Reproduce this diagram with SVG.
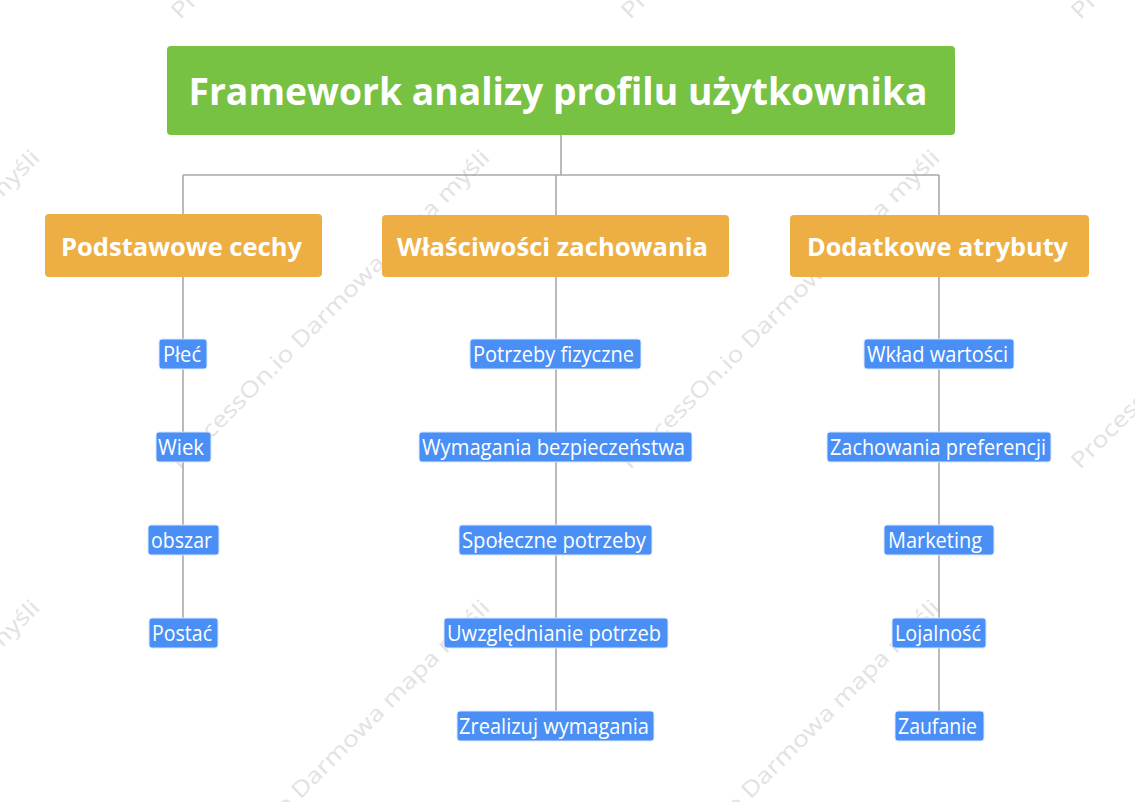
<svg xmlns="http://www.w3.org/2000/svg" width="1135" height="802" viewBox="0 0 1135 802">
<defs>
<style>
.wm{font-family:"Open Sans","Liberation Sans",sans-serif;font-size:22px;fill:#e2e2e2}
.conn{fill:none;stroke:#a9a9a9;stroke-width:1.6}
.root rect{fill:#77c143}
.root text{font-family:"Open Sans","Liberation Sans",sans-serif;font-weight:bold;font-size:37px;fill:#fff;text-anchor:middle}
.cat rect{fill:#edaf43}
.cat text{font-family:"Open Sans","Liberation Sans",sans-serif;font-weight:bold;font-size:25px;fill:#fff;text-anchor:middle}
.leaf rect{fill:#4a8ff5;stroke:#dbe7fc;stroke-width:1}
.leaf text{font-family:"Open Sans","Liberation Sans",sans-serif;font-size:21px;fill:#fff;text-anchor:middle}
</style>
</defs>
<rect x="0" y="0" width="1135" height="802" fill="#ffffff"/>
<g id="watermarks">
<text class="wm" transform="translate(-270,470) rotate(-45)" textLength="440" lengthAdjust="spacingAndGlyphs">ProcessOn.io Darmowa mapa myśli</text>
<text class="wm" transform="translate(-270,920) rotate(-45)" textLength="440" lengthAdjust="spacingAndGlyphs">ProcessOn.io Darmowa mapa myśli</text>
<text class="wm" transform="translate(180,20) rotate(-45)" textLength="440" lengthAdjust="spacingAndGlyphs">ProcessOn.io Darmowa mapa myśli</text>
<text class="wm" transform="translate(630,20) rotate(-45)" textLength="440" lengthAdjust="spacingAndGlyphs">ProcessOn.io Darmowa mapa myśli</text>
<text class="wm" transform="translate(1080,20) rotate(-45)" textLength="440" lengthAdjust="spacingAndGlyphs">ProcessOn.io Darmowa mapa myśli</text>
<text class="wm" transform="translate(180,470) rotate(-45)" textLength="440" lengthAdjust="spacingAndGlyphs">ProcessOn.io Darmowa mapa myśli</text>
<text class="wm" transform="translate(630,470) rotate(-45)" textLength="440" lengthAdjust="spacingAndGlyphs">ProcessOn.io Darmowa mapa myśli</text>
<text class="wm" transform="translate(1080,470) rotate(-45)" textLength="440" lengthAdjust="spacingAndGlyphs">ProcessOn.io Darmowa mapa myśli</text>
<text class="wm" transform="translate(180,920) rotate(-45)" textLength="440" lengthAdjust="spacingAndGlyphs">ProcessOn.io Darmowa mapa myśli</text>
<text class="wm" transform="translate(630,920) rotate(-45)" textLength="440" lengthAdjust="spacingAndGlyphs">ProcessOn.io Darmowa mapa myśli</text>
</g>
<g id="connectors" class="conn">
<path d="M561,135 V175"/>
<path d="M183,175 H939"/>
<path d="M183,175 V214"/>
<path d="M556,175 V215"/>
<path d="M939,175 V215"/>
<path d="M183,277 V618"/>
<path d="M556,277 V711"/>
<path d="M939,277 V711"/>
</g>
<g id="root" class="root">
<rect x="167" y="46" width="788" height="89" rx="4"/>
<text x="558" y="105" textLength="739" lengthAdjust="spacingAndGlyphs">Framework analizy profilu użytkownika</text>
</g>
<g id="cat-podstawowe" class="cat">
<rect x="45" y="214" width="277" height="63" rx="4"/>
<text x="181.5" y="256" textLength="241" lengthAdjust="spacingAndGlyphs">Podstawowe cechy</text>
</g>
<g id="cat-wlasciwosci" class="cat">
<rect x="382" y="215" width="347" height="62" rx="4"/>
<text x="552.5" y="256" textLength="311" lengthAdjust="spacingAndGlyphs">Właściwości zachowania</text>
</g>
<g id="cat-dodatkowe" class="cat">
<rect x="790" y="215" width="299" height="62" rx="4"/>
<text x="937.5" y="256" textLength="261" lengthAdjust="spacingAndGlyphs">Dodatkowe atrybuty</text>
</g>
<g id="leaf-plec" class="leaf"><rect x="159" y="339" width="48" height="30" rx="3"/><text x="182" y="362" textLength="38" lengthAdjust="spacingAndGlyphs">Płeć</text></g>
<g id="leaf-wiek" class="leaf"><rect x="156" y="432" width="55" height="30" rx="3"/><text x="181" y="455" textLength="46" lengthAdjust="spacingAndGlyphs">Wiek</text></g>
<g id="leaf-obszar" class="leaf"><rect x="148" y="525" width="71" height="30" rx="3"/><text x="181.5" y="548" textLength="61" lengthAdjust="spacingAndGlyphs">obszar</text></g>
<g id="leaf-postac" class="leaf"><rect x="149" y="618" width="69" height="30" rx="3"/><text x="182" y="641" textLength="60" lengthAdjust="spacingAndGlyphs">Postać</text></g>
<g id="leaf-potrzeby-fizyczne" class="leaf"><rect x="470" y="339" width="171" height="30" rx="3"/><text x="553.5" y="362" textLength="161" lengthAdjust="spacingAndGlyphs">Potrzeby fizyczne</text></g>
<g id="leaf-wymagania-bezp" class="leaf"><rect x="419" y="432" width="273" height="30" rx="3"/><text x="553.5" y="455" textLength="263" lengthAdjust="spacingAndGlyphs">Wymagania bezpieczeństwa</text></g>
<g id="leaf-spoleczne" class="leaf"><rect x="459" y="525" width="193" height="30" rx="3"/><text x="554" y="548" textLength="184" lengthAdjust="spacingAndGlyphs">Społeczne potrzeby</text></g>
<g id="leaf-uwzglednianie" class="leaf"><rect x="444" y="618" width="224" height="30" rx="3"/><text x="554" y="641" textLength="214" lengthAdjust="spacingAndGlyphs">Uwzględnianie potrzeb</text></g>
<g id="leaf-zrealizuj" class="leaf"><rect x="457" y="711" width="197" height="30" rx="3"/><text x="554" y="734" textLength="190" lengthAdjust="spacingAndGlyphs">Zrealizuj wymagania</text></g>
<g id="leaf-wklad" class="leaf"><rect x="864" y="339" width="150" height="30" rx="3"/><text x="937.5" y="362" textLength="141" lengthAdjust="spacingAndGlyphs">Wkład wartości</text></g>
<g id="leaf-zachowania" class="leaf"><rect x="827" y="432" width="224" height="30" rx="3"/><text x="938" y="455" textLength="216" lengthAdjust="spacingAndGlyphs">Zachowania preferencji</text></g>
<g id="leaf-marketing" class="leaf"><rect x="884" y="525" width="110" height="30" rx="3"/><text x="935" y="548" textLength="94" lengthAdjust="spacingAndGlyphs">Marketing</text></g>
<g id="leaf-lojalnosc" class="leaf"><rect x="892" y="618" width="94" height="30" rx="3"/><text x="938" y="641" textLength="86" lengthAdjust="spacingAndGlyphs">Lojalność</text></g>
<g id="leaf-zaufanie" class="leaf"><rect x="895" y="711" width="89" height="30" rx="3"/><text x="937.5" y="734" textLength="79" lengthAdjust="spacingAndGlyphs">Zaufanie</text></g>
</svg>
